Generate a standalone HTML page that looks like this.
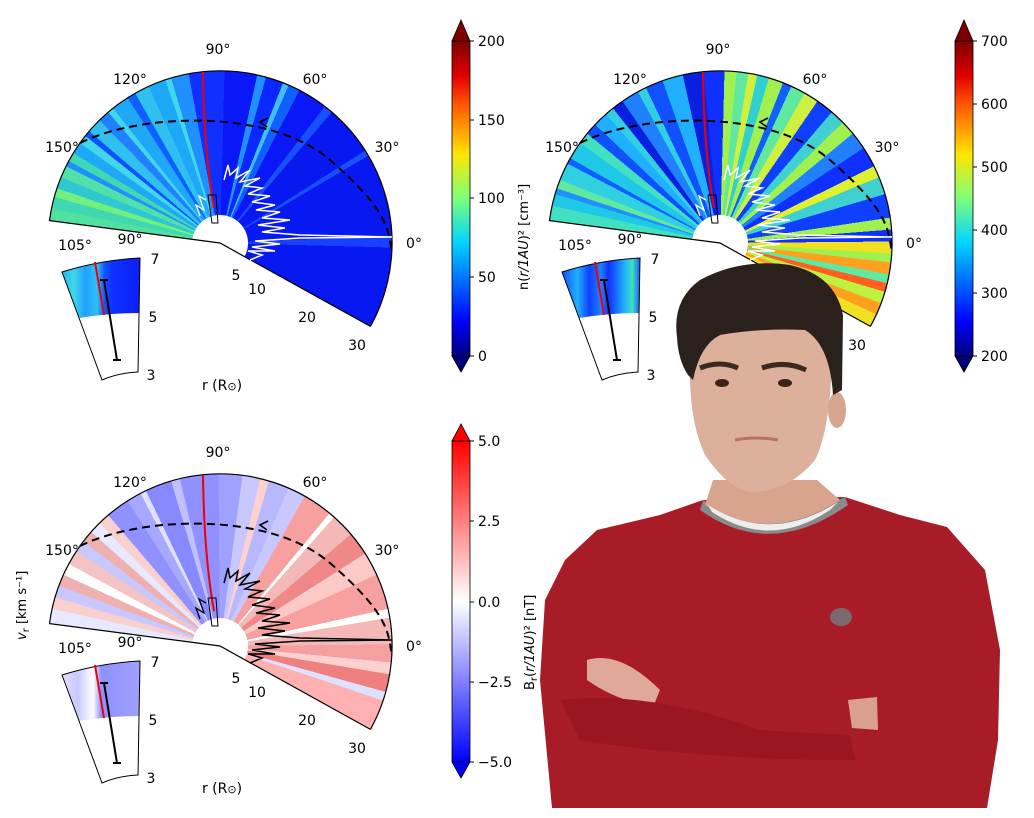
<!DOCTYPE html>
<html><head><meta charset="utf-8">
<style>
html,body{margin:0;padding:0;background:#fff;}
body{position:relative;width:1034px;height:808px;overflow:hidden;}
.fan{position:absolute;width:344px;height:344px;border-radius:50%;}
#f1{left:48px;top:71px;background:conic-gradient(from 277.5deg,#50e0a0 0deg 4deg,#40d8b0 4deg 8deg,#70f080 8deg 11deg,#30c8d0 11deg 15deg,#50e0a8 15deg 19deg,#2090ff 19deg 21deg,#40d8b0 21deg 24deg,#20a8f8 24deg 28deg,#40d8e8 28deg 31deg,#1050ff 31deg 33deg,#30c0f0 33deg 38deg,#2080ff 38deg 42deg,#40d8e8 42deg 44deg,#20a8f8 44deg 50deg,#1060ff 50deg 53deg,#30c0f0 53deg 58deg,#20a8f8 58deg 64deg,#40d8e8 64deg 66deg,#2090ff 66deg 72deg,#1030ff 72deg 84deg,#0a18f8 84deg 95deg,#2090ff 95deg 98deg,#0a28ff 98deg 104deg,#40c0f0 104deg 106deg,#1060ff 106deg 110deg,#0a18f8 110deg 120deg,#1850ff 120deg 123deg,#0818f0 123deg 140deg,#1850ff 140deg 142deg,#0818f0 142deg 170deg,#1a40ff 170deg 174deg,#0818f0 174deg 201.5deg,transparent 201.5deg);}
#f2{left:548px;top:71px;background:conic-gradient(from 277.5deg,#40e0c0 0deg 5deg,#20c8e8 5deg 9deg,#2090ff 9deg 11deg,#60e8a0 11deg 14deg,#30d0e0 14deg 20deg,#1060ff 20deg 22deg,#20c8e8 22deg 28deg,#40e0c0 28deg 32deg,#1050ff 32deg 36deg,#20b0ff 36deg 41deg,#30d0e0 41deg 44deg,#0a20e0 44deg 48deg,#2080ff 48deg 54deg,#30d0e0 54deg 57deg,#1050ff 57deg 63deg,#20b0ff 63deg 70deg,#0a20e0 70deg 77deg,#1030ff 77deg 84deg,#a0f050 84deg 88deg,#60e8a0 88deg 92deg,#d0f040 92deg 95deg,#30d0d0 95deg 99deg,#a0f050 99deg 104deg,#1060ff 104deg 107deg,#60e8a0 107deg 112deg,#d0f040 112deg 117deg,#1040ff 117deg 123deg,#40d0d0 123deg 128deg,#a0f050 128deg 133deg,#2080ff 133deg 139deg,#1030ff 139deg 146deg,#e0f030 146deg 150deg,#40d0d0 150deg 156deg,#1040ff 156deg 164deg,#a0f050 164deg 168deg,#1030ff 168deg 172deg,#f0e020 172deg 176deg,#a0f050 176deg 179deg,#ffa020 179deg 183deg,#60e8a0 183deg 186deg,#ff6020 186deg 189deg,#c0f040 189deg 193deg,#ffa020 193deg 197deg,#f0e020 197deg 201.5deg,transparent 201.5deg);}
#f3{left:48px;top:474px;background:conic-gradient(from 277.5deg,#e8e8ff 0deg 5deg,#f8d0d0 5deg 9deg,#c8c8ff 9deg 13deg,#f0b0b0 13deg 17deg,#ffffff 17deg 21deg,#f4c4c4 21deg 26deg,#c8c8ff 26deg 30deg,#f0b0b0 30deg 34deg,#e8e8ff 34deg 38deg,#f8d0d0 38deg 42deg,#9090ff 42deg 50deg,#a8a8ff 50deg 55deg,#e0e0ff 55deg 57deg,#8888ff 57deg 66deg,#c0c0ff 66deg 69deg,#9090ff 69deg 82deg,#a0a0ff 82deg 90deg,#c8c8ff 90deg 96deg,#ffd0d0 96deg 99deg,#b8b8ff 99deg 106deg,#c8c8ff 106deg 112deg,#f8a0a0 112deg 122deg,#ffffff 122deg 124deg,#f4b8b8 124deg 132deg,#f08888 132deg 140deg,#fcc8c8 140deg 148deg,#f8a0a0 148deg 160deg,#ffffff 160deg 163deg,#f4b8b8 163deg 172deg,#f4a0a0 172deg 178deg,#ffd0d0 178deg 182deg,#f08080 182deg 188deg,#e0e0ff 188deg 191deg,#ffb0b0 191deg 201.5deg,transparent 201.5deg);}
svg{position:absolute;left:0;top:0;}
text{font-family:"DejaVu Sans","Liberation Sans",sans-serif;font-size:14px;fill:#000;}
</style></head>
<body>
<div class="fan" id="f1"></div>
<div class="fan" id="f2"></div>
<div class="fan" id="f3"></div>
<svg width="1034" height="808" viewBox="0 0 1034 808" xmlns="http://www.w3.org/2000/svg">
<defs>
<linearGradient id="jet" x1="0" y1="1" x2="0" y2="0">
<stop offset="0" stop-color="#00007f"/><stop offset="0.11" stop-color="#0000ff"/>
<stop offset="0.36" stop-color="#00d4ff"/><stop offset="0.5" stop-color="#7dff7a"/>
<stop offset="0.64" stop-color="#ffe600"/><stop offset="0.8" stop-color="#ff5500"/>
<stop offset="0.89" stop-color="#e00000"/><stop offset="1" stop-color="#7f0000"/>
</linearGradient>
<linearGradient id="bwr" x1="0" y1="1" x2="0" y2="0">
<stop offset="0" stop-color="#0000ff"/><stop offset="0.5" stop-color="#ffffff"/><stop offset="1" stop-color="#ff0000"/>
</linearGradient>
<linearGradient id="in1" x1="0" y1="0" x2="1" y2="0">
<stop offset="0" stop-color="#20b8f0"/><stop offset=".15" stop-color="#40d8e8"/><stop offset=".3" stop-color="#20a0ff"/><stop offset=".45" stop-color="#30c0f0"/><stop offset=".55" stop-color="#1050ff"/><stop offset=".65" stop-color="#1030ff"/><stop offset="1" stop-color="#0a20f8"/>
</linearGradient>
<linearGradient id="in2" x1="0" y1="0" x2="1" y2="0">
<stop offset="0" stop-color="#1050ff"/><stop offset=".2" stop-color="#20b0ff"/><stop offset=".35" stop-color="#1040ff"/><stop offset=".5" stop-color="#2080ff"/><stop offset=".6" stop-color="#1030ff"/><stop offset=".8" stop-color="#20b0ff"/><stop offset=".9" stop-color="#40e0c0"/><stop offset="1" stop-color="#1060ff"/>
</linearGradient>
<linearGradient id="in3" x1="0" y1="0" x2="1" y2="0">
<stop offset="0" stop-color="#e0e0ff"/><stop offset=".2" stop-color="#c8c8ff"/><stop offset=".4" stop-color="#ffffff"/><stop offset=".5" stop-color="#9090ff"/><stop offset="1" stop-color="#a0a0ff"/>
</linearGradient>
</defs>

<!-- plot 1 -->
<g>
<circle cx="220" cy="243" r="28" fill="#fff"/>
<path d="M370.4,326.4 L220,243 L49.5,220.6 A172,172 0 1 1 370.4,326.4" fill="none" stroke="#000" stroke-width="1.2"/>
<path d="M203,72 Q204,153 214,208" fill="none" stroke="#e00" stroke-width="2"/>
<path d="M208,195 L216,195 L218,223 L212,223 Z" fill="none" stroke="#000"/>
<polyline points="250,260 262,255 248,251 275,251 252,247 280,244 255,241 300,238 392,237 300,235 262,232 285,228 258,225 290,220 262,218 280,212 256,210 275,205 252,202 270,196 248,194 262,188 245,186 260,178 240,182 250,170 236,178 238,168 230,175 228,165 224,180" fill="none" stroke="#fff" stroke-width="1.5"/>
<polyline points="200,216 196,205 204,210 199,196 206,200" fill="none" stroke="#fff" stroke-width="1.3"/>
<path d="M80,143 C140,113 270,108 330,160 S388,230 392,253" fill="none" stroke="#000" stroke-width="2" stroke-dasharray="8,5"/>
<path d="M268,118 l-8,4 l7,5" fill="none" stroke="#000" stroke-width="1.6"/>
<path d="M62,272 Q100,260 140,258 L139,313 Q110,313 79,318 Z" fill="url(#in1)"/>
<path d="M62,272 Q100,260 140,258 L138,372 Q118,373 102,380 Z" fill="none" stroke="#000"/>
<path d="M95,262 L104,315" stroke="#e00" stroke-width="2"/>
<path d="M104,280 L117,360 M100,280 h8 M113,360 h8" stroke="#000" stroke-width="2"/>
<text x="218" y="54" text-anchor="middle">90°</text><text x="130" y="84" text-anchor="middle">120°</text><text x="315" y="84" text-anchor="middle">60°</text><text x="62" y="152" text-anchor="middle">150°</text><text x="387" y="152" text-anchor="middle">30°</text><text x="414" y="248" text-anchor="middle">0°</text>
<text x="75" y="250" text-anchor="middle">105°</text><text x="130" y="244" text-anchor="middle">90°</text><text x="155" y="264" text-anchor="middle">7</text><text x="153" y="322" text-anchor="middle">5</text><text x="151" y="380" text-anchor="middle">3</text>
<text x="236" y="280" text-anchor="middle">5</text><text x="257" y="294" text-anchor="middle">10</text><text x="307" y="322" text-anchor="middle">20</text><text x="357" y="350" text-anchor="middle">30</text>
<text x="222" y="390" text-anchor="middle">r (R<tspan style="font-size:11px">⊙</tspan>)</text>
</g>

<!-- plot 2 -->
<g transform="translate(500,0)">
<circle cx="220" cy="243" r="28" fill="#fff"/>
<path d="M370.4,326.4 L220,243 L49.5,220.6 A172,172 0 1 1 370.4,326.4" fill="none" stroke="#000" stroke-width="1.2"/>
<path d="M203,72 Q204,153 214,208" fill="none" stroke="#e00" stroke-width="2"/>
<path d="M208,195 L216,195 L218,223 L212,223 Z" fill="none" stroke="#000"/>
<polyline points="250,260 262,255 248,251 275,251 252,247 280,244 255,241 300,238 392,237 300,235 262,232 285,228 258,225 290,220 262,218 280,212 256,210 275,205 252,202 270,196 248,194 262,188 245,186 260,178 240,182 250,170 236,178 238,168 230,175 228,165 224,180" fill="none" stroke="#fff" stroke-width="1.5"/>
<polyline points="200,216 196,205 204,210 199,196 206,200" fill="none" stroke="#fff" stroke-width="1.3"/>
<path d="M80,143 C140,113 270,108 330,160 S388,230 392,253" fill="none" stroke="#000" stroke-width="2" stroke-dasharray="8,5"/>
<path d="M268,118 l-8,4 l7,5" fill="none" stroke="#000" stroke-width="1.6"/>
<path d="M62,272 Q100,260 140,258 L139,313 Q110,313 79,318 Z" fill="url(#in2)"/>
<path d="M62,272 Q100,260 140,258 L138,372 Q118,373 102,380 Z" fill="none" stroke="#000"/>
<path d="M95,262 L104,315" stroke="#e00" stroke-width="2"/>
<path d="M104,280 L117,360 M100,280 h8 M113,360 h8" stroke="#000" stroke-width="2"/>
<text x="218" y="54" text-anchor="middle">90°</text><text x="130" y="84" text-anchor="middle">120°</text><text x="315" y="84" text-anchor="middle">60°</text><text x="62" y="152" text-anchor="middle">150°</text><text x="387" y="152" text-anchor="middle">30°</text><text x="414" y="248" text-anchor="middle">0°</text>
<text x="75" y="250" text-anchor="middle">105°</text><text x="130" y="244" text-anchor="middle">90°</text><text x="155" y="264" text-anchor="middle">7</text><text x="153" y="322" text-anchor="middle">5</text><text x="151" y="380" text-anchor="middle">3</text>
<text x="357" y="350" text-anchor="middle">30</text>
</g>

<!-- plot 3 -->
<g transform="translate(0,403)">
<circle cx="220" cy="243" r="28" fill="#fff"/>
<path d="M370.4,326.4 L220,243 L49.5,220.6 A172,172 0 1 1 370.4,326.4" fill="none" stroke="#000" stroke-width="1.2"/>
<path d="M203,72 Q204,153 214,208" fill="none" stroke="#e00" stroke-width="2"/>
<path d="M208,195 L216,195 L218,223 L212,223 Z" fill="none" stroke="#000"/>
<polyline points="250,260 262,255 248,251 275,251 252,247 280,244 255,241 300,238 392,237 300,235 262,232 285,228 258,225 290,220 262,218 280,212 256,210 275,205 252,202 270,196 248,194 262,188 245,186 260,178 240,182 250,170 236,178 238,168 230,175 228,165 224,180" fill="none" stroke="#000" stroke-width="1.5"/>
<polyline points="200,216 196,205 204,210 199,196 206,200" fill="none" stroke="#000" stroke-width="1.3"/>
<path d="M80,143 C140,113 270,108 330,160 S388,230 392,253" fill="none" stroke="#000" stroke-width="2" stroke-dasharray="8,5"/>
<path d="M268,118 l-8,4 l7,5" fill="none" stroke="#000" stroke-width="1.6"/>
<path d="M62,272 Q100,260 140,258 L139,313 Q110,313 79,318 Z" fill="url(#in3)"/>
<path d="M62,272 Q100,260 140,258 L138,372 Q118,373 102,380 Z" fill="none" stroke="#000"/>
<path d="M95,262 L104,315" stroke="#e00" stroke-width="2"/>
<path d="M104,280 L117,360 M100,280 h8 M113,360 h8" stroke="#000" stroke-width="2"/>
<text x="218" y="54" text-anchor="middle">90°</text><text x="130" y="84" text-anchor="middle">120°</text><text x="315" y="84" text-anchor="middle">60°</text><text x="62" y="152" text-anchor="middle">150°</text><text x="387" y="152" text-anchor="middle">30°</text><text x="414" y="248" text-anchor="middle">0°</text>
<text x="75" y="250" text-anchor="middle">105°</text><text x="130" y="244" text-anchor="middle">90°</text><text x="155" y="264" text-anchor="middle">7</text><text x="153" y="322" text-anchor="middle">5</text><text x="151" y="380" text-anchor="middle">3</text>
<text x="236" y="280" text-anchor="middle">5</text><text x="257" y="294" text-anchor="middle">10</text><text x="307" y="322" text-anchor="middle">20</text><text x="357" y="350" text-anchor="middle">30</text>
<text x="222" y="390" text-anchor="middle">r (R<tspan style="font-size:11px">⊙</tspan>)</text>
</g>

<!-- colorbars -->
<g stroke="#000" stroke-width="0.8">
<rect x="452" y="41" width="18" height="315" fill="url(#jet)"/>
<polygon points="452,41 470,41 461,20" fill="#7f0000"/>
<polygon points="452,356 470,356 461,372" fill="#00007f"/>
<rect x="955" y="41" width="18" height="315" fill="url(#jet)"/>
<polygon points="955,41 973,41 964,20" fill="#7f0000"/>
<polygon points="955,356 973,356 964,372" fill="#00007f"/>
<rect x="452" y="441" width="18" height="321" fill="url(#bwr)"/>
<polygon points="452,441 470,441 461,424" fill="#ff0000"/>
<polygon points="452,762 470,762 461,778" fill="#0000ff"/>
</g>
<g stroke="#000" stroke-width="1">
<line x1="470" y1="41" x2="474" y2="41"/><line x1="470" y1="120" x2="474" y2="120"/><line x1="470" y1="198" x2="474" y2="198"/><line x1="470" y1="277" x2="474" y2="277"/><line x1="470" y1="356" x2="474" y2="356"/>
<line x1="973" y1="41" x2="977" y2="41"/><line x1="973" y1="104" x2="977" y2="104"/><line x1="973" y1="167" x2="977" y2="167"/><line x1="973" y1="230" x2="977" y2="230"/><line x1="973" y1="293" x2="977" y2="293"/><line x1="973" y1="356" x2="977" y2="356"/>
<line x1="470" y1="441" x2="474" y2="441"/><line x1="470" y1="521" x2="474" y2="521"/><line x1="470" y1="602" x2="474" y2="602"/><line x1="470" y1="682" x2="474" y2="682"/><line x1="470" y1="762" x2="474" y2="762"/>
</g>
<g>
<text x="478" y="46">200</text><text x="478" y="125">150</text><text x="478" y="203">100</text><text x="478" y="282">50</text><text x="478" y="361">0</text>
<text x="981" y="46">700</text><text x="981" y="109">600</text><text x="981" y="172">500</text><text x="981" y="235">400</text><text x="981" y="298">300</text><text x="981" y="361">200</text>
<text x="478" y="446">5.0</text><text x="478" y="526">2.5</text><text x="478" y="607">0.0</text><text x="478" y="687">−2.5</text><text x="478" y="767">−5.0</text>
<text transform="translate(528,290) rotate(-90)" style="font-size:13px">n(<tspan font-style="italic">r/1AU</tspan>)² [cm⁻³]</text>
<text transform="translate(534,690) rotate(-90)" style="font-size:13px">B<tspan style="font-size:10px" dy="3">r</tspan><tspan dy="-3">(</tspan><tspan font-style="italic">r/1AU</tspan>)² [nT]</text>
<text transform="translate(26,640) rotate(-90)" style="font-size:13px"><tspan font-style="italic">v</tspan><tspan style="font-size:10px" dy="3">r</tspan><tspan dy="-3"> [km s⁻¹]</tspan></text>
</g>

<!-- person -->
<g>
<path d="M552,808 L540,680 L545,600 L565,560 L597,530 L660,515 L703,500 L845,497 L900,515 L947,527 L985,570 L1000,650 L998,740 L987,808 Z" fill="#a81c28"/>
<path d="M703,500 Q770,540 845,497 L848,505 Q770,560 700,510 Z" fill="#8a8a8a"/>
<path d="M713,480 L817,480 L840,500 Q770,545 705,505 Z" fill="#d9a48e"/>
<path d="M708,505 Q770,545 838,502 L830,510 Q770,550 712,512 Z" fill="#eeeeee"/>
<path d="M690,355 Q688,420 705,455 Q730,492 755,492 Q790,490 815,460 Q830,430 832,360 Q830,320 760,318 Q700,318 690,355 Z" fill="#ddb09c"/>
<ellipse cx="837" cy="410" rx="9" ry="18" fill="#d6a590"/>
<path d="M677,337 Q672,300 700,280 Q740,258 790,265 Q835,275 843,315 L842,390 L833,395 Q830,345 805,330 Q760,328 720,335 Q700,345 693,380 L688,375 Q678,360 677,337 Z" fill="#2a211c"/>
<path d="M700,368 Q720,360 738,368" stroke="#3a2a22" stroke-width="5" fill="none"/>
<path d="M762,368 Q785,360 806,370" stroke="#3a2a22" stroke-width="5" fill="none"/>
<ellipse cx="722" cy="383" rx="7" ry="4" fill="#3a2419"/>
<ellipse cx="785" cy="383" rx="7" ry="4" fill="#3a2419"/>
<path d="M735,440 Q755,436 778,440" stroke="#b5736a" stroke-width="3" fill="none"/>
<path d="M587,660 Q620,650 660,690 L653,707 Q615,700 587,680 Z" fill="#e0a898"/>
<path d="M848,700 L877,697 L878,730 L852,728 Z" fill="#d9a090"/>
<path d="M560,700 Q650,690 760,730 L850,735 L855,760 Q700,760 580,740 Z" fill="#9a1722"/>
<ellipse cx="841" cy="617" rx="11" ry="9" fill="#7a6a6e"/>
</g>
</svg>
</body></html>
